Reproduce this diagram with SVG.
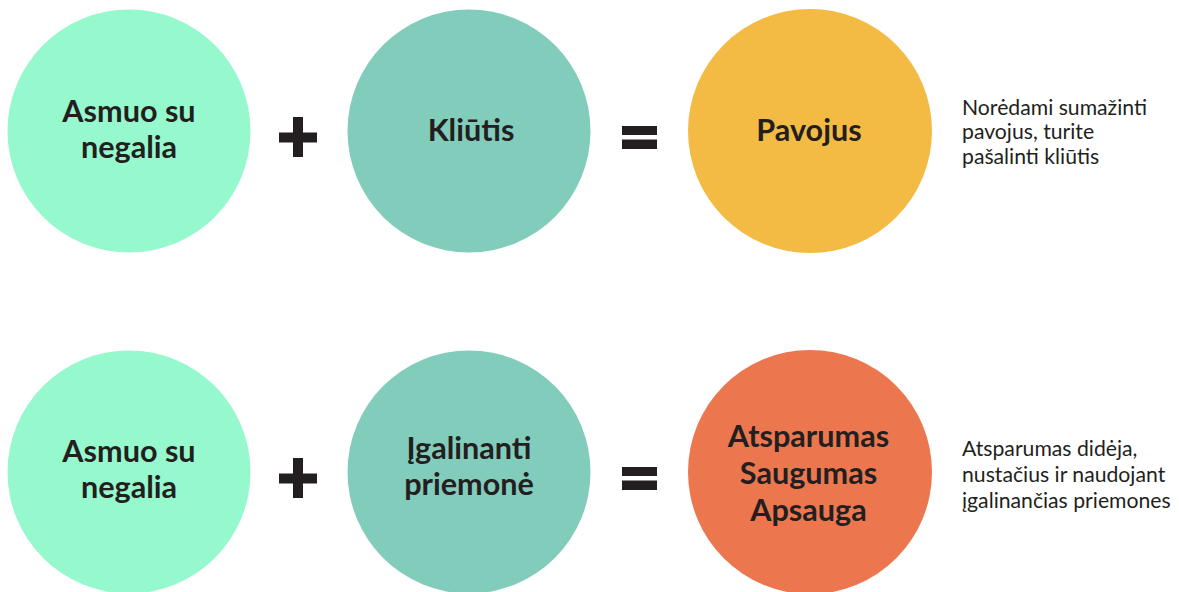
<svg xmlns="http://www.w3.org/2000/svg" width="1179" height="592" viewBox="0 0 1179 592">
<style>
.lbl{font-family:Lato,"Liberation Sans",sans-serif;font-weight:700;font-size:30.6px;fill:#231F20;text-anchor:middle}
.side{font-family:Lato,"Liberation Sans",sans-serif;font-weight:400;font-size:21.2px;fill:#231F20}
.op{fill:#231F20}
</style>
<rect width="1179" height="592" fill="#FFFFFF"/>
<g id="row1">
  <g id="person1">
    <circle cx="129" cy="131" r="121.5" fill="#96F9CD"/>
    <text class="lbl" x="129" y="121.7">Asmuo su</text>
    <text class="lbl" x="129" y="157.7">negalia</text>
  </g>
  <g id="plus1" class="op">
    <rect x="279" y="132.5" width="38" height="10"/>
    <rect x="293" y="117" width="10" height="40"/>
  </g>
  <g id="barrier">
    <circle cx="469" cy="131" r="121.5" fill="#82CCBC"/>
    <text class="lbl" x="471" y="141">Kliūtis</text>
  </g>
  <g id="equals1" class="op">
    <rect x="622" y="126" width="35" height="9"/>
    <rect x="622" y="139.5" width="35" height="9.5"/>
  </g>
  <g id="danger">
    <circle cx="810" cy="131" r="122" fill="#F4BB44"/>
    <text class="lbl" x="809" y="141">Pavojus</text>
  </g>
  <g id="note1">
    <text class="side" x="962" y="114.5">Norėdami sumažinti</text>
    <text class="side" x="962" y="139">pavojus, turite</text>
    <text class="side" x="962" y="163.5">pašalinti kliūtis</text>
  </g>
</g>
<g id="row2">
  <g id="person2">
    <circle cx="129" cy="472" r="121.5" fill="#96F9CD"/>
    <text class="lbl" x="129" y="462.3">Asmuo su</text>
    <text class="lbl" x="129" y="498.3">negalia</text>
  </g>
  <g id="plus2" class="op">
    <rect x="279" y="473.5" width="38" height="10"/>
    <rect x="293" y="458" width="10" height="40"/>
  </g>
  <g id="enabler">
    <circle cx="469" cy="472" r="121.5" fill="#82CCBC"/>
    <text class="lbl" x="469" y="458.5">Įgalinanti</text>
    <text class="lbl" x="469" y="494.5">priemonė</text>
  </g>
  <g id="equals2" class="op">
    <rect x="622" y="467" width="35" height="9"/>
    <rect x="622" y="480.5" width="35" height="9.5"/>
  </g>
  <g id="resilience">
    <circle cx="810" cy="472" r="122" fill="#EC774F"/>
    <text class="lbl" x="808.5" y="446.5">Atsparumas</text>
    <text class="lbl" x="808.5" y="483.5">Saugumas</text>
    <text class="lbl" x="808.5" y="520.5">Apsauga</text>
  </g>
  <g id="note2">
    <text class="side" x="962" y="456">Atsparumas didėja,</text>
    <text class="side" x="962" y="482">nustačius ir naudojant</text>
    <text class="side" x="962" y="508">įgalinančias priemones</text>
  </g>
</g>
<g id="connectors"></g>
</svg>
